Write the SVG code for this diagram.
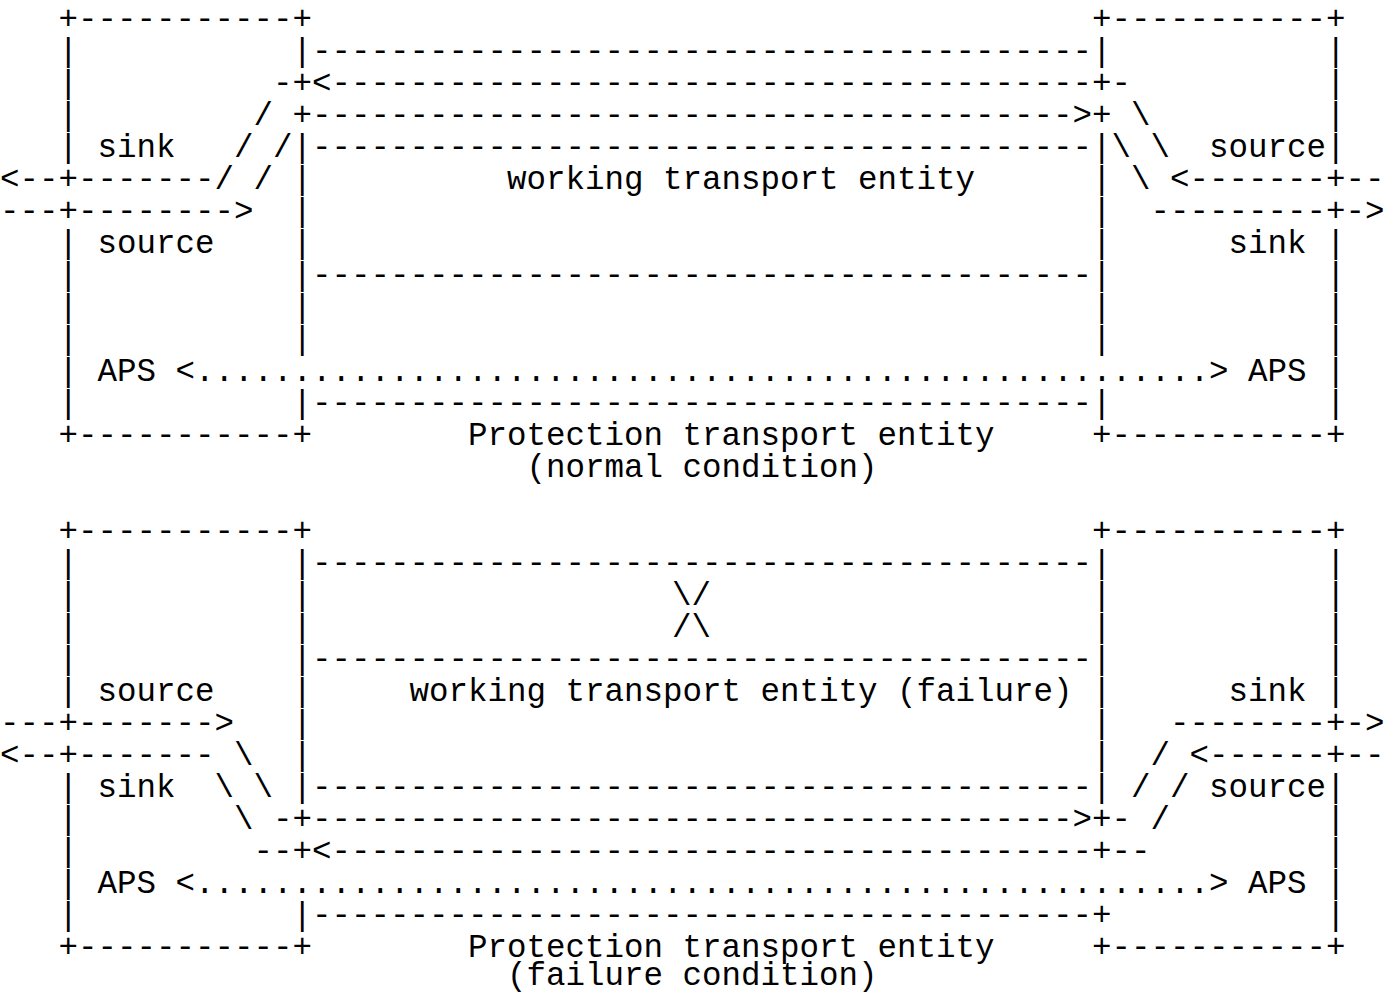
<svg xmlns="http://www.w3.org/2000/svg" width="1395" height="993" viewBox="0 0 1395 993">
<style>
.t{font-family:"Liberation Mono","DejaVu Sans Mono",monospace;font-size:32.5px;fill:#000}
</style>
<rect x="0" y="0" width="1395" height="993" fill="#fff"/>
<g id="normal-condition" class="t">
<text y="29"><tspan x="58.5">+-----------+</tspan><tspan x="1092">+-----------+</tspan></text>
<text y="61"><tspan x="58.5">|</tspan><tspan x="292.5">|</tspan><tspan x="312">----------------------------------------</tspan><tspan x="1092">|</tspan><tspan x="1326">|</tspan></text>
<text y="93"><tspan x="58.5">|</tspan><tspan x="273">-+&lt;</tspan><tspan x="331.5">---------------------------------------</tspan><tspan x="1092">+-</tspan><tspan x="1326">|</tspan></text>
<text y="125"><tspan x="58.5">|</tspan><tspan x="253.5">/</tspan><tspan x="292.5">+</tspan><tspan x="312">---------------------------------------</tspan><tspan x="1072.5">&gt;+</tspan><tspan x="1131">\</tspan><tspan x="1326">|</tspan></text>
<text y="157"><tspan x="58.5">|</tspan><tspan x="97.5">sink</tspan><tspan x="234">/</tspan><tspan x="273">/|</tspan><tspan x="312">----------------------------------------</tspan><tspan x="1092">|\</tspan><tspan x="1150.5">\</tspan><tspan x="1209">source|</tspan></text>
<text y="189"><tspan x="0">&lt;--+</tspan><tspan x="78">-------</tspan><tspan x="214.5">/</tspan><tspan x="253.5">/</tspan><tspan x="292.5">|</tspan><tspan x="507">working transport entity</tspan><tspan x="1092">|</tspan><tspan x="1131">\</tspan><tspan x="1170">&lt;</tspan><tspan x="1189.5">-------</tspan><tspan x="1326">+--</tspan></text>
<text y="221"><tspan x="0">---+</tspan><tspan x="78">--------</tspan><tspan x="234">&gt;</tspan><tspan x="292.5">|</tspan><tspan x="1092">|</tspan><tspan x="1150.5">---------</tspan><tspan x="1326">+-&gt;</tspan></text>
<text y="253"><tspan x="58.5">|</tspan><tspan x="97.5">source</tspan><tspan x="292.5">|</tspan><tspan x="1092">|</tspan><tspan x="1228.5">sink</tspan><tspan x="1326">|</tspan></text>
<text y="285"><tspan x="58.5">|</tspan><tspan x="292.5">|</tspan><tspan x="312">----------------------------------------</tspan><tspan x="1092">|</tspan><tspan x="1326">|</tspan></text>
<text y="317"><tspan x="58.5">|</tspan><tspan x="292.5">|</tspan><tspan x="1092">|</tspan><tspan x="1326">|</tspan></text>
<text y="349"><tspan x="58.5">|</tspan><tspan x="292.5">|</tspan><tspan x="1092">|</tspan><tspan x="1326">|</tspan></text>
<text y="381"><tspan x="58.5">|</tspan><tspan x="97.5">APS</tspan><tspan x="175.5">&lt;</tspan><tspan x="195">....................................................</tspan><tspan x="1209">&gt;</tspan><tspan x="1248">APS</tspan><tspan x="1326">|</tspan></text>
<text y="413"><tspan x="58.5">|</tspan><tspan x="292.5">|</tspan><tspan x="312">----------------------------------------</tspan><tspan x="1092">|</tspan><tspan x="1326">|</tspan></text>
<text y="445"><tspan x="58.5">+-----------+</tspan><tspan x="468">Protection transport entity</tspan><tspan x="1092">+-----------+</tspan></text>
<text y="477"><tspan x="526.5">(normal condition)</tspan></text>
</g>
<g id="failure-condition" class="t">
<text y="541"><tspan x="58.5">+-----------+</tspan><tspan x="1092">+-----------+</tspan></text>
<text y="573"><tspan x="58.5">|</tspan><tspan x="292.5">|</tspan><tspan x="312">----------------------------------------</tspan><tspan x="1092">|</tspan><tspan x="1326">|</tspan></text>
<text y="605"><tspan x="58.5">|</tspan><tspan x="292.5">|</tspan><tspan x="672">\/</tspan><tspan x="1092">|</tspan><tspan x="1326">|</tspan></text>
<text y="637"><tspan x="58.5">|</tspan><tspan x="292.5">|</tspan><tspan x="672">/\</tspan><tspan x="1092">|</tspan><tspan x="1326">|</tspan></text>
<text y="669"><tspan x="58.5">|</tspan><tspan x="292.5">|</tspan><tspan x="312">----------------------------------------</tspan><tspan x="1092">|</tspan><tspan x="1326">|</tspan></text>
<text y="701"><tspan x="58.5">|</tspan><tspan x="97.5">source</tspan><tspan x="292.5">|</tspan><tspan x="409.5">working transport entity (failure)</tspan><tspan x="1092">|</tspan><tspan x="1228.5">sink</tspan><tspan x="1326">|</tspan></text>
<text y="733"><tspan x="0">---+</tspan><tspan x="78">-------</tspan><tspan x="214.5">&gt;</tspan><tspan x="292.5">|</tspan><tspan x="1092">|</tspan><tspan x="1170">--------</tspan><tspan x="1326">+-&gt;</tspan></text>
<text y="765"><tspan x="0">&lt;--+</tspan><tspan x="78">-------</tspan><tspan x="234">\</tspan><tspan x="292.5">|</tspan><tspan x="1092">|</tspan><tspan x="1150.5">/</tspan><tspan x="1189.5">&lt;</tspan><tspan x="1209">------</tspan><tspan x="1326">+--</tspan></text>
<text y="797"><tspan x="58.5">|</tspan><tspan x="97.5">sink</tspan><tspan x="214.5">\</tspan><tspan x="253.5">\</tspan><tspan x="292.5">|</tspan><tspan x="312">----------------------------------------</tspan><tspan x="1092">|</tspan><tspan x="1131">/</tspan><tspan x="1170">/</tspan><tspan x="1209">source|</tspan></text>
<text y="829"><tspan x="58.5">|</tspan><tspan x="234">\</tspan><tspan x="273">-+</tspan><tspan x="312">---------------------------------------</tspan><tspan x="1072.5">&gt;+-</tspan><tspan x="1150.5">/</tspan><tspan x="1326">|</tspan></text>
<text y="861"><tspan x="58.5">|</tspan><tspan x="253.5">--+&lt;</tspan><tspan x="331.5">---------------------------------------</tspan><tspan x="1092">+--</tspan><tspan x="1326">|</tspan></text>
<text y="893"><tspan x="58.5">|</tspan><tspan x="97.5">APS</tspan><tspan x="175.5">&lt;</tspan><tspan x="195">....................................................</tspan><tspan x="1209">&gt;</tspan><tspan x="1248">APS</tspan><tspan x="1326">|</tspan></text>
<text y="925"><tspan x="58.5">|</tspan><tspan x="292.5">|</tspan><tspan x="312">----------------------------------------</tspan><tspan x="1092">+</tspan><tspan x="1326">|</tspan></text>
<text y="957"><tspan x="58.5">+-----------+</tspan><tspan x="468">Protection transport entity</tspan><tspan x="1092">+-----------+</tspan></text>
<text y="985"><tspan x="507">(failure condition)</tspan></text>
</g>
</svg>
